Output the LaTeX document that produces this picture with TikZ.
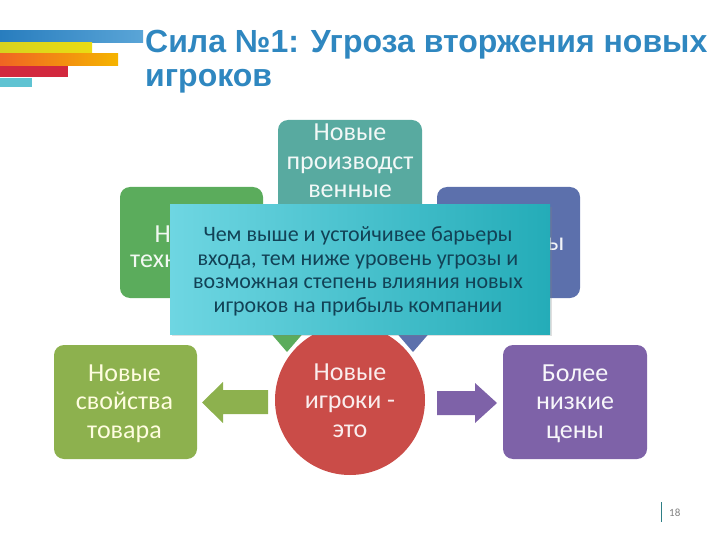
\documentclass[tikz,border=0pt]{standalone}
\usepackage{fontspec}
\setmainfont{Carlito}
\newfontfamily\titlefont{Liberation Sans}
\usetikzlibrary{shadows}
\definecolor{titleblue}{RGB}{47,135,192}
\definecolor{stblueL}{RGB}{40,125,190}
\definecolor{stblueR}{RGB}{90,165,215}
\definecolor{styellowL}{RGB}{215,210,30}
\definecolor{styellowR}{RGB}{235,220,20}
\definecolor{storangeL}{RGB}{240,100,35}
\definecolor{storangeR}{RGB}{245,180,0}
\definecolor{stred}{RGB}{210,40,62}
\definecolor{stcyan}{RGB}{95,195,210}
\definecolor{tealbox}{RGB}{88,170,160}
\definecolor{greenbox}{RGB}{91,172,92}
\definecolor{bluebox}{RGB}{92,112,172}
\definecolor{olivebox}{RGB}{141,177,78}
\definecolor{redcirc}{RGB}{202,76,72}
\definecolor{purplebox}{RGB}{126,98,168}
\definecolor{calloutL}{RGB}{110,214,226}
\definecolor{calloutR}{RGB}{36,172,184}
\definecolor{callouttext}{RGB}{18,66,86}
\definecolor{pgline}{RGB}{46,127,134}
\begin{document}
\begin{tikzpicture}[x=1pt,y=-1pt,
  boxstyle/.style={rounded corners=10pt, inner sep=0pt},
  boxtext/.style={inner sep=0pt, align=center, font=\fontsize{26}{28.5}\selectfont}]
\useasboundingbox (0,0) rectangle (720,540);
% stripes
\shade[left color=stblueL, right color=stblueR] (0,31) rectangle (143,42.5);
\shade[left color=styellowL, right color=styellowR] (0,43) rectangle (92,54);
\shade[left color=storangeL, right color=storangeR] (0,54) rectangle (118,66);
\fill[stred] (0,66) rectangle (68,77);
\fill[stcyan] (0,78) rectangle (32,87);
% title
\node[anchor=base west, inner sep=0pt, align=left, text=titleblue,
  font=\titlefont\bfseries\fontsize{32}{34}\selectfont] (title) at (145,87)
  {Сила №1: Угроза вторжения новых\\игроков};
% top boxes
\node[boxstyle, fill=tealbox, minimum width=144pt, minimum height=112pt] (topbox) at (350,176) {};
\node[boxtext, anchor=base, text=white!92!tealbox] (toptext) at (350,198)
  {Новые\\производст\\венные};
\node[boxstyle, fill=greenbox, minimum width=143pt, minimum height=111pt] (gbox) at (191.5,242.5) {};
\node[boxtext, anchor=base west, text=white!92!greenbox] (gtext1) at (154.5,242) {Н};
\node[boxtext, anchor=base west, text=white!92!greenbox] (gtext2) at (130,267) {техн};
\node[boxstyle, fill=bluebox, minimum width=143pt, minimum height=111pt] (bbox) at (508.5,242.5) {};
\node[boxtext, anchor=base west, text=white!92!bluebox] (btext) at (547,250) {ы};
% arrow tips from upper boxes
\coordinate (gtipL) at (268,330);
\coordinate (gtipR) at (306,330);
\coordinate (gtip) at (287,352);
\coordinate (btipL) at (394,330);
\coordinate (btipR) at (432,330);
\coordinate (btip) at (413,352);
\fill[greenbox] (gtipL) -- (gtipR) -- (gtip) -- cycle;
\fill[bluebox] (btipL) -- (btipR) -- (btip) -- cycle;
% centre circle
\node[circle, fill=redcirc, minimum size=150pt, inner sep=0pt] (center) at (350,400) {};
\node[boxtext, anchor=base, text=white!90!redcirc] (centertext) at (350,437)
  {Новые\\игроки -\\это};
% bottom boxes
\node[boxstyle, fill=olivebox, minimum width=143pt, minimum height=114pt] (lbox) at (125.5,402) {};
\node[boxtext, anchor=base, text=white!88!yellow] (ltext) at (124.5,438) {Новые\\свойства\\товара};
\node[boxstyle, fill=purplebox, minimum width=144pt, minimum height=114pt] (rbox) at (575,402) {};
\node[boxtext, anchor=base, text=white!94!purplebox] (rtext) at (575,438) {Более\\низкие\\цены};
% block arrows
\coordinate (la1) at (268,390);
\coordinate (la2) at (223,390);
\coordinate (la3) at (223,382);
\coordinate (latip) at (202,402.5);
\coordinate (la5) at (223,423);
\coordinate (la6) at (223,414);
\coordinate (la7) at (268,414);
\fill[olivebox] (la1) -- (la2) -- (la3) -- (latip) -- (la5) -- (la6) -- (la7) -- cycle;
\coordinate (ra1) at (437,391);
\coordinate (ra2) at (475,391);
\coordinate (ra3) at (475,383);
\coordinate (ratip) at (497,403);
\coordinate (ra5) at (475,423);
\coordinate (ra6) at (475,415);
\coordinate (ra7) at (437,415);
\fill[purplebox] (ra1) -- (ra2) -- (ra3) -- (ratip) -- (ra5) -- (ra6) -- (ra7) -- cycle;
% callout
\node[left color=calloutL, right color=calloutR, minimum width=380pt, minimum height=129pt,
  inner sep=0pt,
  drop shadow={shadow xshift=2pt, shadow yshift=-2pt, opacity=0.25}] (callout) at (360,269.5) {};
\node[inner sep=0pt, align=center, text=callouttext, anchor=base,
  font=\fontsize{22}{23.4}\selectfont] (callouttext) at (358,312)
  {Чем выше и устойчивее барьеры\\входа, тем ниже уровень угрозы и\\возможная степень влияния новых\\игроков на прибыль компании};
% page number
\coordinate (pgtop) at (661,502);
\coordinate (pgbot) at (661,522);
\draw[pgline, line width=0.8pt] (pgtop) -- (pgbot);
\node[anchor=base west, inner sep=0pt, text=gray, font=\fontsize{11}{13}\selectfont] (pgnum) at (669,516) {18};
\end{tikzpicture}
\end{document}
